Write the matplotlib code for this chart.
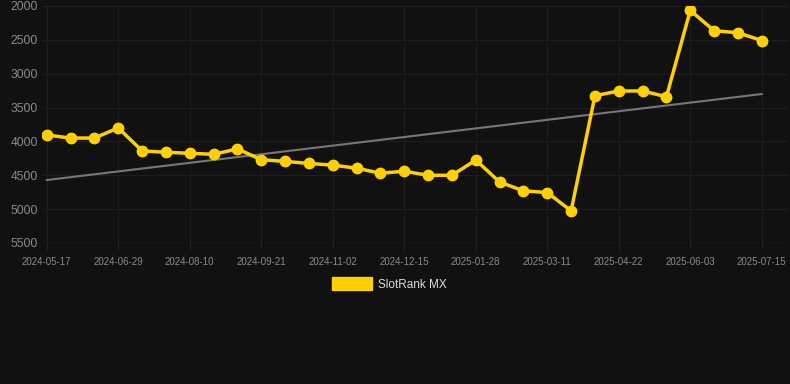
import numpy as np
import matplotlib
matplotlib.use('Agg')
import matplotlib.pyplot as plt
from matplotlib.patches import Patch

dates = ['2024-05-17', '2024-06-29', '2024-08-10', '2024-09-21', '2024-11-02', '2024-12-15',
         '2025-01-28', '2025-03-11', '2025-04-22', '2025-06-03', '2025-07-15']
ranks = [3905, 3950, 3950, 3800, 4140, 4160, 4175, 4190, 4110, 4270, 4295, 4325, 4350, 4395,
         4470, 4440, 4500, 4500, 4275, 4600, 4730, 4755, 5025, 3325, 3255, 3255, 3340, 2065,
         2365, 2395, 2510]
trend = [4570, 3300]
yticks = [2000, 2500, 3000, 3500, 4000, 4500, 5000, 5500]

bg = '#111111'
gold = '#FFD000'

plt.rcParams['font.family'] = ['Liberation Sans', 'DejaVu Sans']
fig = plt.figure(figsize = (7.9, 3.84), dpi = 100, facecolor = bg)
ax = fig.add_axes([42 / 790, 1 - 243 / 384, (788 - 42) / 790, 237 / 384], facecolor = bg)

x = np.arange(len(ranks))
ax.plot([x[0], x[-1]], trend, color = '#777777', lw = 1.5, zorder = 2)
ax.plot(x, ranks, color = gold, lw = 2.5, marker = 'o', ms = 7.5, zorder = 3)

ax.set_ylim(5500, 2000)
ax.set_xlim(-0.2, 31.1)
ax.set_yticks(yticks)
ax.set_yticklabels([str(v) for v in yticks], fontsize = 8.7, color = '#8a8a8a')
ax.set_xticks(x[::3])
ax.set_xticklabels(dates, fontsize = 7, color = '#8a8a8a')
ax.tick_params(axis = 'y', length = 0, pad = 3)
ax.tick_params(axis = 'x', length = 4, color = '#262626', pad = 6)
ax.grid(True, color = '#1e1e1e', lw = 0.8)
for s in ax.spines.values():
    s.set_visible(False)
ax.axhline(5500, color = '#2e2e2e', lw = 1, zorder = 1)

fig.legend(handles = [Patch(color = gold, label = 'SlotRank MX')], loc = 'center',
           bbox_to_anchor = (0.5 - 6 / 790, 1 - 284 / 384), frameon = False, fontsize = 8.5,
           labelcolor = '#dddddd', handlelength = 3.4, handleheight = 1.3, handletextpad = 0.5)

fig.savefig('out.png', dpi = 100, facecolor = bg)
